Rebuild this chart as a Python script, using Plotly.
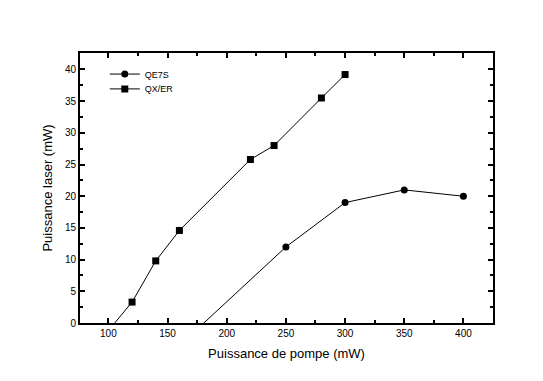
import plotly.graph_objects as go

# QE7S series (first point lies below the axis and is clipped, as in the original)
qe7s_x = [150, 250, 300, 350, 400]
qe7s_y = [-5.3, 12.0, 19.0, 21.0, 20.0]

# QX/ER series (first point lies below the axis and is clipped)
qxer_x = [100, 120, 140, 160, 220, 240, 280, 300]
qxer_y = [-1.2, 3.3, 9.8, 14.6, 25.8, 28.0, 35.5, 39.2]

x_ticks = [100, 150, 200, 250, 300, 350, 400]
y_ticks = [0, 5, 10, 15, 20, 25, 30, 35, 40]

font = "Liberation Sans, Arial, sans-serif"

fig = go.Figure()
fig.add_trace(go.Scatter(
    x=qe7s_x, y=qe7s_y, name="QE7S", mode="lines+markers",
    line=dict(color="black", width=1),
    marker=dict(symbol="circle", size=7, color="black"),
    cliponaxis=True, legend="legend",
))
fig.add_trace(go.Scatter(
    x=qxer_x, y=qxer_y, name="QX/ER", mode="lines+markers",
    line=dict(color="black", width=1),
    marker=dict(symbol="square", size=7, color="black"),
    cliponaxis=True, legend="legend2",
))

axis_common = dict(
    showline=True, linecolor="black", linewidth=2, mirror="ticks",
    ticks="inside", ticklen=5, tickwidth=2, tickcolor="black",
    showgrid=False, zeroline=False,
    tickfont=dict(family=font, size=10, color="black"),
)

fig.update_xaxes(
    range=[76, 425], tickvals=x_ticks, ticktext=[str(v) for v in x_ticks],
    title=dict(text="Puissance de pompe (mW)", font=dict(family=font, size=13, color="black"), standoff=11),
    minor=dict(dtick=25, tick0=0, ticks="inside", ticklen=3, tickwidth=2, tickcolor="black"),
    **axis_common,
)
fig.update_yaxes(
    range=[0, 42.6], tickvals=y_ticks, ticktext=[str(v) for v in y_ticks],
    title=dict(text="Puissance laser (mW)", font=dict(family=font, size=13, color="black"), standoff=9),
    minor=dict(dtick=2.5, tick0=0, ticks="inside", ticklen=3, tickwidth=2, tickcolor="black"),
    **axis_common,
)

leg_common = dict(x=0.06, xanchor="left", yanchor="middle",
                  bgcolor="rgba(0,0,0,0)", font=dict(family=font, size=9, color="black"),
                  itemwidth=30, borderwidth=0)

fig.update_layout(
    width=535, height=373,
    margin=dict(l=72, r=50, t=45, b=58),
    plot_bgcolor="white", paper_bgcolor="white",
    showlegend=True,
    legend=dict(y=0.922, **leg_common),
    legend2=dict(y=0.867, **leg_common),
)

fig.write_html("out.html")
